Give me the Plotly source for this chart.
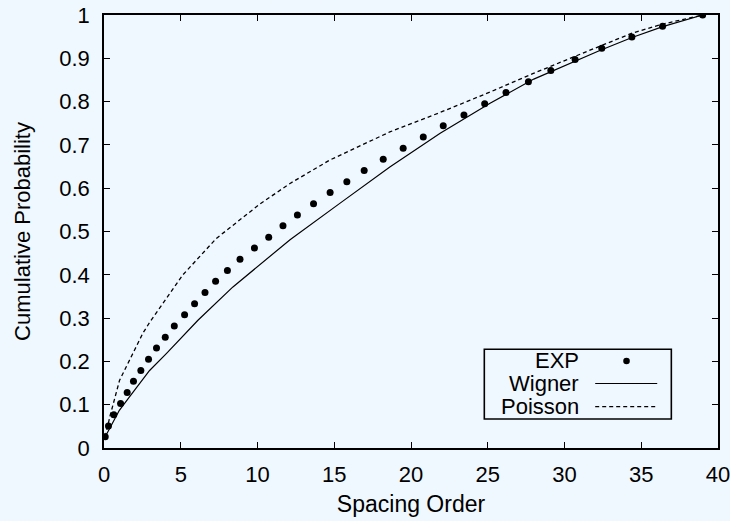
import plotly.graph_objects as go

# EXP data
exp_x = [0.08, 0.29, 0.64, 1.08, 1.51, 1.92, 2.40, 2.90, 3.42, 3.99, 4.58, 5.25,
         5.90, 6.58, 7.27, 8.04, 8.86, 9.80, 10.73, 11.66, 12.60, 13.65, 14.73,
         15.82, 16.95, 18.19, 19.49, 20.80, 22.10, 23.45, 24.80, 26.19, 27.65,
         29.11, 30.69, 32.43, 34.39, 36.39, 39.0]
exp_y = [0.026, 0.051, 0.077, 0.103, 0.128, 0.154, 0.179, 0.205, 0.231, 0.256,
         0.282, 0.308, 0.333, 0.359, 0.385, 0.410, 0.436, 0.462, 0.487, 0.513,
         0.538, 0.564, 0.590, 0.615, 0.641, 0.667, 0.692, 0.718, 0.744, 0.769,
         0.795, 0.821, 0.846, 0.872, 0.897, 0.923, 0.949, 0.974, 1.0]

# Wigner curve
wig_x = [0.08, 1.0, 1.66, 2.97, 4.06, 5.36, 6.12, 8.4, 10.58, 12.12, 15.36,
         18.62, 21.9, 25.15, 28.0, 32.3, 34.4, 36.4, 39.0]
wig_y = [0.026, 0.087, 0.118, 0.179, 0.218, 0.268, 0.295, 0.372, 0.437, 0.481,
         0.565, 0.649, 0.727, 0.796, 0.852, 0.918, 0.948, 0.973, 1.0]

# Poisson curve
poi_x = [0.08, 0.4, 1.01, 1.88, 2.53, 2.97, 4.49, 5.14, 7.32, 7.86, 10.14,
         12.12, 14.71, 18.62, 21.9, 25.15, 27.97, 32.3, 34.4, 36.4, 39.0]
poi_y = [0.026, 0.075, 0.156, 0.218, 0.265, 0.290, 0.368, 0.400, 0.484, 0.499,
         0.563, 0.611, 0.665, 0.730, 0.775, 0.822, 0.865, 0.928, 0.958, 0.979, 1.0]

x_ticks = [0, 5, 10, 15, 20, 25, 30, 35, 40]
y_ticks = [0, 0.1, 0.2, 0.3, 0.4, 0.5, 0.6, 0.7, 0.8, 0.9, 1]

legend_labels = ["EXP", "Wigner", "Poisson"]

BG = "#f0f8ff"
FONT = "Liberation Sans, Arial, sans-serif"
DASH = "4px,3px"

fig = go.Figure()
fig.add_trace(go.Scatter(x=wig_x, y=wig_y, mode="lines",
                         line=dict(color="black", width=1.2), name="Wigner",
                         showlegend=False))
fig.add_trace(go.Scatter(x=poi_x, y=poi_y, mode="lines",
                         line=dict(color="black", width=1.3, dash=DASH),
                         name="Poisson", showlegend=False))
fig.add_trace(go.Scatter(x=exp_x, y=exp_y, mode="markers",
                         marker=dict(color="black", size=7), name="EXP",
                         showlegend=False))

axis_common = dict(showline=True, linecolor="black", linewidth=1.6,
                   mirror="allticks", ticks="inside", ticklen=6,
                   tickwidth=1, tickcolor="black", showgrid=False,
                   zeroline=False, automargin=False,
                   ticklabeloverflow="allow",
                   tickfont=dict(size=22, color="black"))

fig.update_xaxes(range=[0, 40], tickvals=x_ticks,
                 title=dict(text="Spacing Order", font=dict(size=23, color="black"),
                            standoff=10),
                 ticklabelstandoff=6, **axis_common)
fig.update_yaxes(range=[0, 1], tickvals=y_ticks,
                 title=dict(text="Cumulative Probability",
                            font=dict(size=22, color="black"), standoff=23),
                 ticklabelstandoff=8, **axis_common)

# Gnuplot-style key box (text right-aligned, sample on the right)
lx0, lx1, ly0, ly1 = 0.6194, 0.924, 0.067, 0.228
row_y = [0.201, 0.149, 0.0954]
text_x = 0.775
samp_x0, samp_x1, dot_x = 0.800, 0.901, 0.851

shapes = [dict(type="rect", xref="paper", yref="paper", x0=lx0, x1=lx1,
               y0=ly0, y1=ly1, line=dict(color="black", width=1.6),
               fillcolor=BG, layer="above")]
shapes.append(dict(type="circle", xref="paper", yref="paper",
                   xsizemode="pixel", ysizemode="pixel",
                   xanchor=dot_x, yanchor=row_y[0],
                   x0=-3.3, x1=3.3, y0=-3.3, y1=3.3,
                   fillcolor="black", line=dict(color="black", width=0)))
shapes.append(dict(type="line", xref="paper", yref="paper", x0=samp_x0,
                   x1=samp_x1, y0=row_y[1], y1=row_y[1],
                   line=dict(color="black", width=1.2)))
shapes.append(dict(type="line", xref="paper", yref="paper", x0=samp_x0,
                   x1=samp_x1, y0=row_y[2], y1=row_y[2],
                   line=dict(color="black", width=1.3, dash=DASH)))

annotations = [dict(text=t, x=text_x, y=yy, xref="paper", yref="paper",
                    xanchor="right", yanchor="middle", showarrow=False,
                    borderpad=0,
                    font=dict(size=22, color="black", family=FONT))
               for t, yy in zip(legend_labels, row_y)]

fig.update_layout(width=730, height=521,
                  margin=dict(l=104, r=12, t=15, b=73),
                  paper_bgcolor=BG, plot_bgcolor=BG,
                  font=dict(family=FONT, color="black"),
                  shapes=shapes, annotations=annotations,
                  showlegend=False)

fig.write_html("out.html")
